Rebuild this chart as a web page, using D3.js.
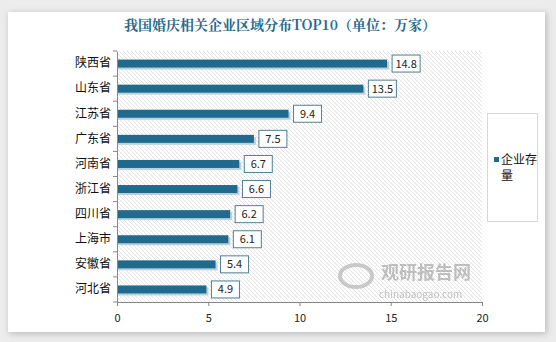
<!DOCTYPE html>
<html>
<head>
<meta charset="utf-8">
<script src="https://cdn.jsdelivr.net/npm/d3@7"></script>
<style>
  body { margin: 0; background: #ececec; }
  text { font-family: "Noto Sans CJK SC", "Noto Sans", sans-serif; }
</style>
</head>
<body>
<div id="container"></div>
<script>
// data
const provinces = ["陕西省","山东省","江苏省","广东省","河南省","浙江省","四川省","上海市","安徽省","河北省"];
const values = [14.8, 13.5, 9.4, 7.5, 6.7, 6.6, 6.2, 6.1, 5.4, 4.9];
const xTicks = [0, 5, 10, 15, 20];
const seriesName = "企业存量";
const title = "我国婚庆相关企业区域分布TOP10（单位：万家）";

const w = 556, h = 342;
const pLeft = 117, pRight = 482, pTop = 51, pBottom = 302;
const barColor = "#1f6a8d";

const svg = d3.select("#container").append("svg")
  .attr("width", w).attr("height", h);

const defs = svg.append("defs");
const pat = defs.append("pattern")
  .attr("id", "hatch").attr("patternUnits", "userSpaceOnUse")
  .attr("width", 4).attr("height", 4);
pat.append("rect").attr("width", 4).attr("height", 4).attr("fill", "#ffffff");
pat.append("path").attr("d", "M-1,-1 L5,5 M-1,3 L1,5 M3,-1 L5,1")
  .attr("stroke", "#e3e3e3").attr("stroke-width", 1);
const blur = defs.append("filter").attr("id", "shadow")
  .attr("x", "-5%").attr("y", "-5%").attr("width", "110%").attr("height", "110%");
blur.append("feGaussianBlur").attr("stdDeviation", 3);

// outer panel with soft shadow
svg.append("rect").attr("x", 9).attr("y", 13).attr("width", 538).attr("height", 321)
  .attr("fill", "#bdbdbd").attr("filter", "url(#shadow)");
svg.append("rect").attr("x", 8).attr("y", 12).attr("width", 537).attr("height", 320)
  .attr("fill", "#ffffff");

svg.append("text")
  .attr("x", 280).attr("y", 30)
  .attr("text-anchor", "middle")
  .attr("font-size", 14).attr("font-weight", "bold")
  .attr("fill", "#2a6a8c")
  .style("font-family", "'Noto Serif CJK SC', 'Noto Sans CJK SC', serif")
  .text(title);

const xScale = d3.scaleLinear().domain([0, 20]).range([pLeft, pRight]);
const yScale = d3.scaleBand().domain(provinces).range([pTop, pBottom]);

// plot area hatching
svg.append("rect").attr("x", pLeft).attr("y", pTop)
  .attr("width", pRight - pLeft).attr("height", pBottom - pTop)
  .attr("fill", "url(#hatch)");

const barH = 8;
const rows = svg.selectAll("g.row").data(provinces).enter().append("g").attr("class", "row");

// bar shadow
rows.append("rect")
  .attr("x", pLeft)
  .attr("y", d => yScale(d) + yScale.bandwidth() / 2 - barH / 2 + 2)
  .attr("width", (d, i) => xScale(values[i]) - pLeft + 2)
  .attr("height", barH)
  .attr("fill", "#bcd1dc");

rows.append("rect")
  .attr("x", pLeft)
  .attr("y", d => yScale(d) + yScale.bandwidth() / 2 - barH / 2)
  .attr("width", (d, i) => xScale(values[i]) - pLeft)
  .attr("height", barH)
  .attr("fill", barColor);

// value label boxes
const boxW = 28, boxH = 17;
rows.append("rect")
  .attr("x", (d, i) => xScale(values[i]) + 5)
  .attr("y", d => yScale(d) + yScale.bandwidth() / 2 - boxH / 2)
  .attr("width", boxW).attr("height", boxH)
  .attr("fill", "#ffffff").attr("stroke", "#4f7f92").attr("stroke-width", 1);

rows.append("text")
  .attr("x", (d, i) => xScale(values[i]) + 5 + boxW / 2)
  .attr("y", d => yScale(d) + yScale.bandwidth() / 2 + 4)
  .attr("text-anchor", "middle").attr("font-size", 11).attr("fill", "#222")
  .text((d, i) => values[i]);

// y axis
const yAxis = svg.append("g").attr("transform", "translate(" + pLeft + ",0)")
  .call(d3.axisLeft(yScale).tickSize(0).tickPadding(6));
yAxis.select(".domain").attr("stroke", "#888");
yAxis.selectAll("text").attr("font-size", 12).attr("fill", "#111")
  .style("font-family", "'Noto Sans CJK SC', sans-serif");
yAxis.selectAll(".sep").data(d3.range(provinces.length + 1)).enter().append("line")
  .attr("class", "sep")
  .attr("x1", -4).attr("x2", 0)
  .attr("y1", i => pTop + i * yScale.step()).attr("y2", i => pTop + i * yScale.step())
  .attr("stroke", "#888");

// x axis
const xAxis = svg.append("g").attr("transform", "translate(0," + pBottom + ")")
  .call(d3.axisBottom(xScale).tickValues(xTicks).tickSize(4).tickPadding(8).tickSizeOuter(0));
xAxis.select(".domain").attr("stroke", "#888");
xAxis.selectAll("line").attr("stroke", "#888");
xAxis.selectAll("text").attr("font-size", 11).attr("fill", "#222");

// legend
svg.append("rect").attr("x", 487.5).attr("y", 113.5).attr("width", 50).attr("height", 108)
  .attr("fill", "#fff").attr("stroke", "#d8d8d8");
svg.append("rect").attr("x", 494).attr("y", 157).attr("width", 5).attr("height", 5)
  .attr("fill", barColor);
svg.append("text").attr("x", 501).attr("y", 164).attr("font-size", 12).attr("fill", "#111")
  .text(seriesName.slice(0, 3));
svg.append("text").attr("x", 501).attr("y", 180).attr("font-size", 12).attr("fill", "#111")
  .text(seriesName.slice(3));

// watermark
const wm = svg.append("g").attr("opacity", 0.6);
wm.append("ellipse").attr("cx", 356).attr("cy", 276).attr("rx", 16).attr("ry", 11)
  .attr("fill", "none").attr("stroke", "#aaa").attr("stroke-width", 4);
wm.append("text").attr("x", 381).attr("y", 279).attr("font-size", 18).attr("font-weight", "bold")
  .attr("fill", "#999").text("观研报告网");
wm.append("text").attr("x", 379).attr("y", 298).attr("font-size", 10).attr("fill", "#999")
  .text("chinabaogao.com");
</script>
</body>
</html>
